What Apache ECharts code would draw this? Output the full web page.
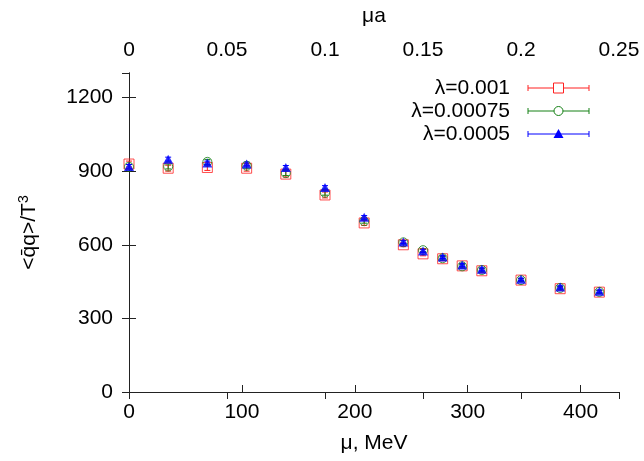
<!DOCTYPE html>
<html><head><meta charset="utf-8">
<script src="https://cdn.jsdelivr.net/npm/echarts@6/dist/echarts.min.js"></script>
<style>html,body{margin:0;padding:0;background:#fff}#c{width:644px;height:461px}</style>
</head><body><div id="c"></div>
<script>
// mu in MeV (mu*a = 0, 0.02, ..., 0.24)
const mu = [0, 34.7, 69.4, 104.2, 138.9, 173.6, 208.3, 243.0, 260.4, 277.8, 295.1, 312.5, 347.2, 381.9, 416.6];
const lam001   = [929, 912, 915, 912, 888, 803, 689, 600, 563, 543, 514, 494, 456, 421, 407];
const lam00075 = [918, 919, 938, 922, 892, 812, 696, 610, 578, 545, 512, 497, 456, 424, 408];
const lam0005  = [919, 949, 933, 929, 915, 833, 712, 611, 575, 550, 518, 500, 459, 428, 411];
const err001   = [12, 12, 12, 12, 12, 12, 10, 8, 8, 8, 8, 8, 6, 6, 6];
const err00075 = [10, 10, 10, 10, 10, 10, 8, 7, 7, 7, 7, 7, 6, 6, 6];
const err0005  = [8, 8, 8, 8, 8, 8, 7, 6, 6, 6, 6, 6, 5, 5, 5];
const names = ['λ=0.001', 'λ=0.00075', 'λ=0.0005'];
const colors = ['#ff2020', '#158015', '#0000ff'];
const xTicksBottom = [0, 100, 200, 300, 400];
const xTicksTop = [0, 0.05, 0.1, 0.15, 0.2, 0.25];
const yTicks = [0, 300, 600, 900, 1200];

const FONT = 'Liberation Sans, Arial, sans-serif';
const FS = 21;

function pts(ys){ return mu.map((x,i)=>[x, ys[i]]); }
function errData(ys, es){ return mu.map((x,i)=>[x, ys[i]-es[i], ys[i]+es[i]]); }
function errSeries(ys, es, color){
  return {
    type:'custom', xAxisIndex:0, yAxisIndex:0, silent:true, z:2,
    data: errData(ys, es),
    renderItem:(params, api)=>{
      const lo = api.coord([api.value(0), api.value(1)]);
      const hi = api.coord([api.value(0), api.value(2)]);
      const w = 3;
      const st = {stroke: color, lineWidth: 1, fill:null};
      return {type:'group', children:[
        {type:'line', shape:{x1:lo[0], y1:lo[1], x2:hi[0], y2:hi[1]}, style:st},
        {type:'line', shape:{x1:lo[0]-w, y1:lo[1], x2:lo[0]+w, y2:lo[1]}, style:st},
        {type:'line', shape:{x1:hi[0]-w, y1:hi[1], x2:hi[0]+w, y2:hi[1]}, style:st}
      ]};
    }
  };
}

const axisLine = {show:true, lineStyle:{color:'#222', width:1}};
const tick = {show:true, inside:true, length:7, lineStyle:{color:'#222'}};
const lbl = {color:'#000', fontSize:FS, fontFamily:FONT};

const chart = echarts.init(document.getElementById('c'), null, {renderer:'canvas'});

// legend drawn as graphic
const legY = [88, 111, 134];
const legendGraphics = [];
names.forEach((n,i)=>{
  const y = legY[i], c = colors[i];
  legendGraphics.push({type:'text', x:510, y:y, style:{text:n, font:FS+'px '+FONT, fill:'#000', align:'right', verticalAlign:'middle'}});
  legendGraphics.push({type:'line', shape:{x1:528, y1:y, x2:589, y2:y}, style:{stroke:c, lineWidth:1}});
  legendGraphics.push({type:'line', shape:{x1:528, y1:y-3, x2:528, y2:y+3}, style:{stroke:c, lineWidth:1}});
  legendGraphics.push({type:'line', shape:{x1:589, y1:y-3, x2:589, y2:y+3}, style:{stroke:c, lineWidth:1}});
  if(i===0) legendGraphics.push({type:'rect', shape:{x:553.5, y:y-5, width:10, height:10}, style:{stroke:c, fill:'#fff', lineWidth:1}});
  if(i===1) legendGraphics.push({type:'circle', shape:{cx:558.5, cy:y, r:4.5}, style:{stroke:c, fill:'#fff', lineWidth:1}});
  if(i===2) legendGraphics.push({type:'polygon', shape:{points:[[558.5,y-5],[553.5,y+4],[563.5,y+4]]}, style:{fill:c}});
});

chart.setOption({
  animation:false,
  backgroundColor:'#fff',
  grid:{left:129, right:25, top:73, bottom:69, containLabel:false},
  xAxis:[
    {type:'value', position:'bottom', min:0, max:434, interval:100,
     axisLine, axisTick:tick, splitLine:{show:false},
     axisLabel:Object.assign({margin:10, showMaxLabel:false, formatter:v=>xTicksBottom.includes(v)?String(v):''}, lbl),
     name:'μ, MeV', nameLocation:'middle', nameGap:41, nameTextStyle:{color:'#000', fontSize:FS, fontFamily:FONT}},
    {type:'value', position:'top', min:0, max:0.25, interval:0.05,
     axisLine, axisTick:tick, splitLine:{show:false},
     axisLabel:Object.assign({margin:12, formatter:v=>{const t=xTicksTop.find(q=>Math.abs(q-v)<1e-9);return t===undefined?'':String(t);}}, lbl),
     name:'μa', nameLocation:'middle', nameGap:46, nameTextStyle:{color:'#000', fontSize:FS, fontFamily:FONT}}
  ],
  yAxis:[
    {type:'value', position:'left', min:0, max:1300, interval:300,
     axisLine, axisTick:tick, splitLine:{show:false},
     axisLabel:Object.assign({margin:16, showMaxLabel:false, formatter:v=>yTicks.includes(v)?String(v):''}, lbl),
     name:'<q̄q>/T{s|3}', nameLocation:'middle', nameGap:88, nameRotate:90,
     nameTextStyle:{color:'#000', fontSize:FS, fontFamily:FONT, rich:{s:{fontSize:14, verticalAlign:'top', padding:[0,0,10,0], fontFamily:FONT, color:'#000'}}}},
    {type:'value', position:'right', min:0, max:1300, interval:300,
     axisLine, axisTick:Object.assign({}, tick, {show:true}), splitLine:{show:false},
     axisLabel:{show:false}}
  ],
  series:[
    errSeries(lam001, err001, colors[0]),
    {name:names[0], type:'scatter', xAxisIndex:0, yAxisIndex:0, data:pts(lam001), symbol:'rect', symbolSize:10, z:3,
     itemStyle:{color:'rgba(0,0,0,0)', borderColor:colors[0], borderWidth:1}},
    errSeries(lam00075, err00075, colors[1]),
    {name:names[1], type:'scatter', xAxisIndex:0, yAxisIndex:0, data:pts(lam00075), symbol:'circle', symbolSize:9, z:4,
     itemStyle:{color:'rgba(0,0,0,0)', borderColor:colors[1], borderWidth:1}},
    errSeries(lam0005, err0005, colors[2]),
    {name:names[2], type:'scatter', xAxisIndex:0, yAxisIndex:0, data:pts(lam0005), symbol:'triangle', symbolSize:[10,9], z:5,
     itemStyle:{color:colors[2]}}
  ],
  graphic: legendGraphics
});
</script>
</body></html>
